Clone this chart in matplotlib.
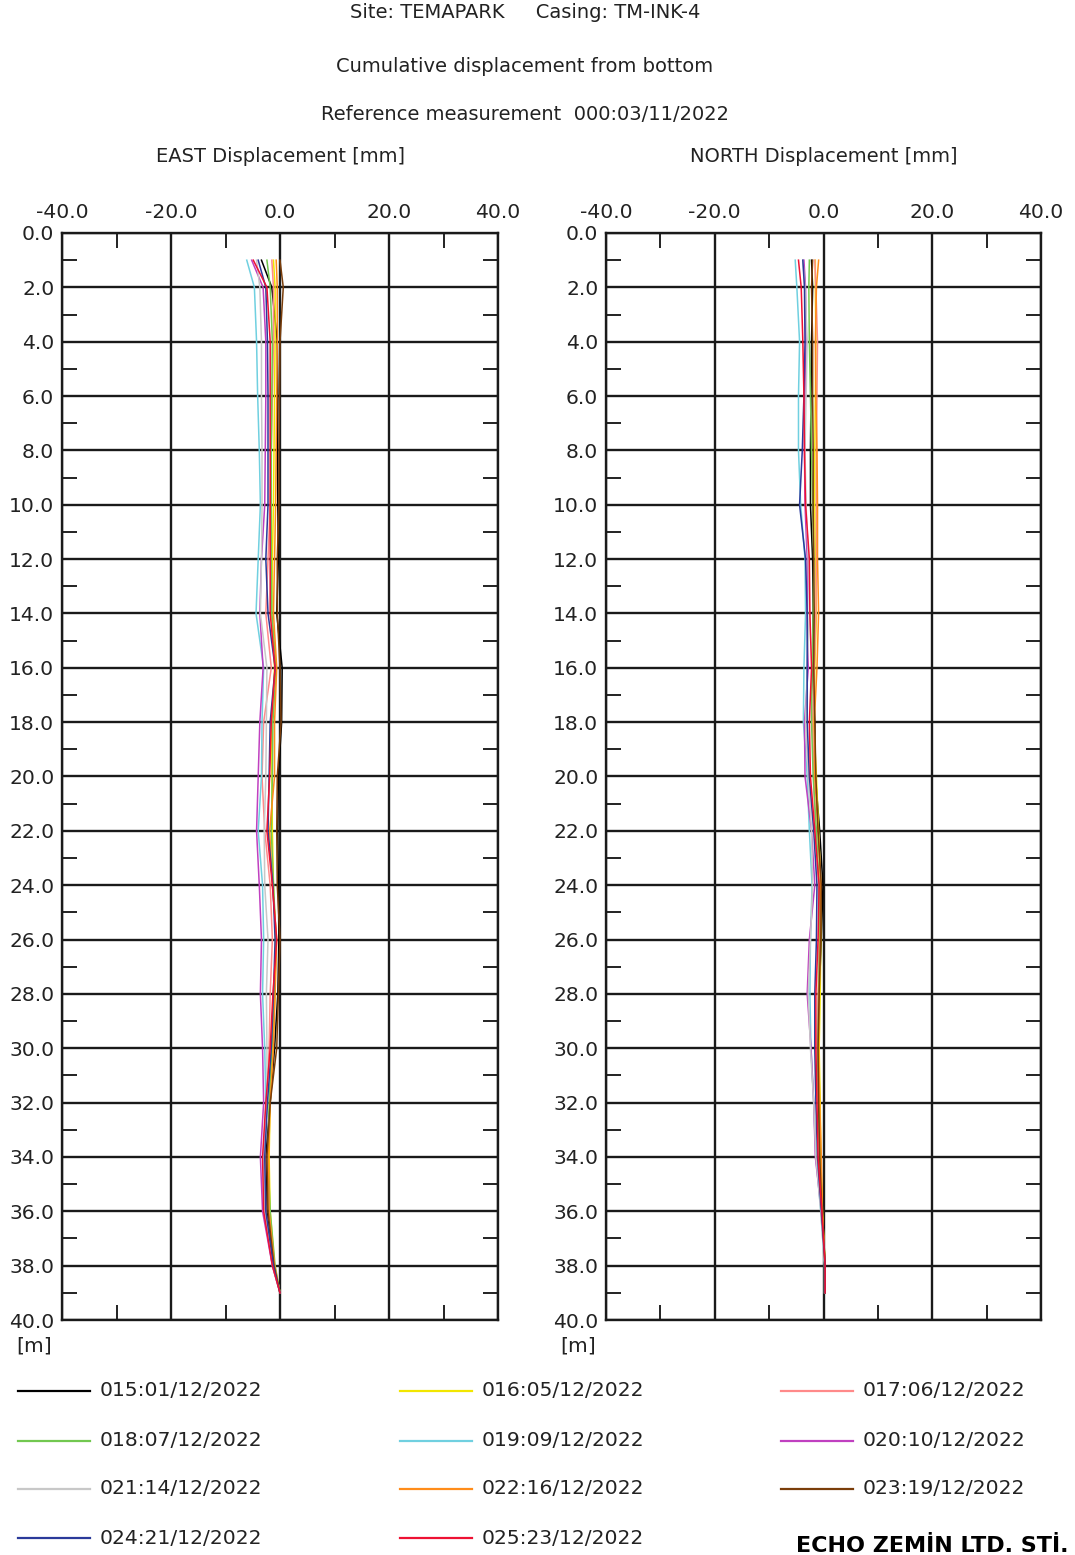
import matplotlib
matplotlib.use('Agg')
import matplotlib.pyplot as plt
from matplotlib.lines import Line2D
from matplotlib.ticker import MultipleLocator, FormatStrFormatter

W, H = 1075, 1555
FS = 14        # titles
FN = 14.6      # numbers / legend

depth = [1, 2, 4, 6, 8, 10, 12, 14, 16, 18, 20, 22, 24, 26, 28, 30, 32, 34, 36, 38, 39]

labels = ['015:01/12/2022', '016:05/12/2022', '017:06/12/2022', '018:07/12/2022',
          '019:09/12/2022', '020:10/12/2022', '021:14/12/2022', '022:16/12/2022',
          '023:19/12/2022', '024:21/12/2022', '025:23/12/2022']
colors = ['#000000', '#f2e600', '#ff8a8a', '#72c850', '#70d0e0', '#c040c0',
          '#c8c8c8', '#ff8c1a', '#7a3d0a', '#2b3a9a', '#ee1133']

# EAST cumulative displacement [mm]
east_015 = [-3.4, -1.5, -0.5, -0.4, -0.5, -0.4, -0.3, -0.6, 0.4, 0.3, -0.3, -0.4, -0.3, -0.2, -0.4, -1.0, -1.8, -2.6, -2.4, -1.2, 0.0]
east_016 = [-1.2, -0.9, -0.9, -1.0, -1.1, -1.2, -1.4, -1.5, -1.0, -1.5, -1.5, -1.4, -1.2, -0.8, -0.9, -1.4, -1.8, -2.0, -1.8, -1.0, 0.0]
east_017 = [-1.5, -1.2, -1.2, -1.4, -1.6, -1.8, -2.2, -2.6, -1.6, -3.0, -3.3, -2.8, -1.8, -1.4, -1.8, -2.0, -2.5, -2.8, -2.6, -1.3, 0.0]
east_018 = [-2.4, -1.8, -1.4, -1.5, -1.6, -1.6, -1.6, -1.5, -0.7, -1.3, -1.4, -1.6, -1.2, -0.7, -1.0, -1.5, -2.0, -2.2, -1.8, -0.9, 0.0]
east_019 = [-6.1, -4.7, -4.3, -4.1, -3.8, -3.6, -4.0, -4.4, -3.0, -3.3, -3.4, -4.0, -3.2, -3.0, -3.2, -2.8, -2.6, -3.0, -2.8, -1.4, 0.0]
east_020 = [-5.2, -3.1, -2.6, -2.6, -2.7, -2.8, -3.4, -3.7, -3.1, -3.7, -4.0, -4.3, -3.8, -3.4, -3.6, -3.2, -3.0, -3.6, -3.2, -1.4, 0.0]
east_021 = [-4.3, -3.7, -3.4, -3.4, -3.3, -3.3, -3.4, -3.6, -2.4, -2.5, -2.6, -2.9, -2.8, -2.2, -2.5, -2.4, -2.4, -2.9, -2.8, -1.3, 0.0]
east_022 = [-0.7, -0.5, -0.5, -0.6, -0.7, -0.8, -1.0, -1.2, -0.6, -1.0, -1.0, -1.9, -1.4, -0.6, -0.9, -1.2, -1.8, -2.1, -2.0, -1.0, 0.0]
east_023 = [0.0, 0.6, 0.0, -0.1, -0.2, -0.2, -0.5, -0.5, 0.0, 0.2, -0.5, -0.6, -0.5, 0.0, -0.3, -0.6, -1.8, -2.4, -2.2, -1.1, 0.0]
east_024 = [-4.0, -2.6, -2.3, -2.2, -2.2, -2.2, -2.6, -2.2, -0.9, -1.8, -2.0, -2.2, -1.3, -0.9, -1.2, -1.6, -2.3, -2.8, -2.6, -1.2, 0.0]
east_025 = [-4.9, -2.4, -1.8, -1.8, -1.8, -1.8, -1.8, -1.8, -0.9, -1.6, -1.9, -2.4, -1.4, -0.6, -1.3, -1.8, -2.6, -3.2, -3.0, -1.4, 0.0]

# NORTH cumulative displacement [mm]
north_015 = [-2.2, -2.0, -2.2, -2.3, -2.4, -2.4, -2.0, -1.9, -2.0, -1.6, -1.5, -0.7, -0.1, -0.4, -0.8, -0.9, -0.8, -0.6, -0.2, 0.3, 0.3]
north_016 = [-1.5, -1.5, -1.4, -1.5, -1.6, -1.6, -1.5, -1.3, -1.6, -1.8, -1.3, -0.9, -0.5, -0.5, -0.6, -0.8, -0.6, -0.5, -0.2, 0.3, 0.3]
north_017 = [-1.6, -1.4, -1.1, -1.2, -1.3, -1.3, -1.3, -1.4, -1.7, -2.0, -1.8, -1.5, -0.9, -0.8, -1.0, -1.2, -1.0, -0.8, -0.3, 0.3, 0.3]
north_018 = [-2.6, -2.7, -2.6, -2.4, -2.2, -2.0, -1.8, -1.9, -2.1, -2.2, -1.9, -1.3, -0.8, -0.7, -0.9, -1.0, -0.9, -0.7, -0.3, 0.3, 0.3]
north_019 = [-5.2, -4.9, -4.4, -4.6, -4.6, -4.2, -3.4, -3.3, -3.6, -3.7, -3.0, -2.6, -2.1, -2.4, -2.5, -2.3, -1.8, -1.4, -0.5, 0.2, 0.2]
north_020 = [-3.6, -3.3, -3.2, -3.4, -3.5, -3.4, -3.0, -3.0, -2.8, -3.5, -3.4, -2.2, -1.6, -2.6, -3.0, -2.3, -1.8, -1.5, -0.4, 0.3, 0.3]
north_021 = [-3.8, -3.4, -3.0, -3.2, -3.4, -3.2, -2.8, -2.6, -3.0, -3.3, -2.8, -2.2, -2.0, -2.4, -2.8, -2.4, -1.8, -1.4, -0.5, 0.2, 0.2]
north_022 = [-0.9, -1.3, -1.5, -1.4, -1.2, -1.1, -1.1, -0.9, -1.2, -1.7, -1.6, -1.0, -0.5, -0.6, -0.8, -0.9, -0.7, -0.4, -0.2, 0.3, 0.3]
north_023 = [-2.0, -2.2, -2.0, -2.0, -1.9, -1.9, -1.8, -1.7, -1.8, -1.6, -1.4, -1.0, -0.4, -0.5, -0.8, -1.0, -0.9, -0.7, -0.3, 0.3, 0.3]
north_024 = [-3.8, -3.5, -3.4, -3.6, -3.9, -4.4, -3.3, -3.0, -3.0, -3.0, -2.6, -1.8, -1.2, -1.3, -1.6, -1.6, -1.4, -1.1, -0.4, 0.3, 0.3]
north_025 = [-4.6, -4.1, -3.8, -3.6, -3.5, -3.3, -2.6, -2.5, -2.2, -2.6, -2.4, -1.6, -0.8, -1.0, -1.4, -1.4, -1.2, -1.0, -0.3, 0.3, 0.3]

east = [east_015, east_016, east_017, east_018, east_019, east_020,
        east_021, east_022, east_023, east_024, east_025]
north = [north_015, north_016, north_017, north_018, north_019, north_020,
         north_021, north_022, north_023, north_024, north_025]


def fx(px):
    return px / W


def fy(py):
    return 1 - py / H


fig = plt.figure(figsize=(W / 100, H / 100), dpi=100)
fig.patch.set_facecolor('white')

ax_e = fig.add_axes([fx(62), fy(1320), (498 - 62) / W, (1320 - 233) / H])
ax_n = fig.add_axes([fx(606), fy(1320), (1041 - 606) / W, (1320 - 233) / H])

for ax, series in ((ax_e, east), (ax_n, north)):
    for vals, c in zip(series, colors):
        ax.plot(vals, depth, '-', color=c, lw=1.1)
    ax.set_xlim(-40, 40)
    ax.set_ylim(40, 0)
    ax.xaxis.set_major_locator(MultipleLocator(20))
    ax.xaxis.set_minor_locator(MultipleLocator(10))
    ax.yaxis.set_major_locator(MultipleLocator(2))
    ax.yaxis.set_minor_locator(MultipleLocator(1))
    ax.xaxis.set_major_formatter(FormatStrFormatter('%.1f'))
    ax.yaxis.set_major_formatter(FormatStrFormatter('%.1f'))
    ax.grid(True, which='major', color='#1a1a1a', lw=1.7)
    ax.set_axisbelow(True)
    ax.xaxis.tick_top()
    ax.tick_params(which='major', length=0, labelsize=FN, colors='#222222')
    ax.tick_params(axis='x', which='major', pad=8, top=True, bottom=False,
                   labeltop=True, labelbottom=False)
    ax.tick_params(axis='y', which='major', pad=5.5)
    ax.tick_params(which='minor', direction='in', length=11, width=1.4,
                   color='#222222', top=True, bottom=True, left=True, right=True)
    for s in ax.spines.values():
        s.set_color('#1a1a1a')
        s.set_linewidth(1.7)

fig.text(fx(525), fy(13), 'Site: TEMAPARK     Casing: TM-INK-4', ha='center',
         va='center', fontsize=FS, color='#222222')
fig.text(fx(525), fy(66), 'Cumulative displacement from bottom', ha='center',
         va='center', fontsize=FS, color='#222222')
fig.text(fx(525), fy(115), 'Reference measurement  000:03/11/2022', ha='center',
         va='center', fontsize=FS, color='#222222')
fig.text(fx(280), fy(157), 'EAST Displacement [mm]', ha='center', va='center',
         fontsize=FS, color='#222222')
fig.text(fx(824), fy(157), 'NORTH Displacement [mm]', ha='center', va='center',
         fontsize=FS, color='#222222')
fig.text(fx(16), fy(1346), '[m]', ha='left', va='center', fontsize=FN, color='#222222')
fig.text(fx(560), fy(1346), '[m]', ha='left', va='center', fontsize=FN, color='#222222')

# legend, row-major in three columns
col_x = [18, 400, 781]
row_y = [1391, 1441, 1489, 1538]
for i, (lab, c) in enumerate(zip(labels, colors)):
    x0 = col_x[i % 3]
    y0 = row_y[i // 3]
    fig.add_artist(Line2D([fx(x0), fx(x0 + 72)], [fy(y0), fy(y0)],
                          color=c, lw=1.6, transform=fig.transFigure))
    fig.text(fx(x0 + 82), fy(y0), lab, ha='left', va='center', fontsize=FN,
             color='#222222')

fig.text(fx(1068), fy(1546), 'ECHO ZEMİN LTD. STİ.', ha='right', va='center',
         fontsize=16, fontweight='heavy', color='black')

fig.savefig('out.png', dpi=100, facecolor='white')
